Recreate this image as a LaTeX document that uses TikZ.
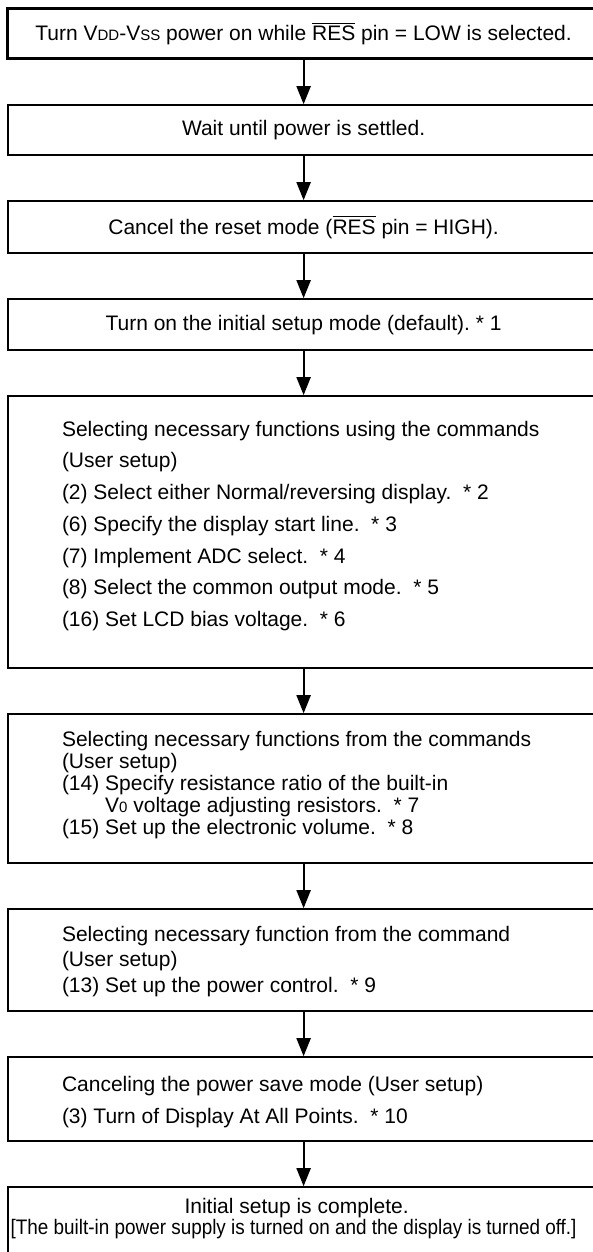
\documentclass[tikz,border=0pt]{standalone}
\usepackage{fontspec}
\setmainfont{Liberation Sans}
\usetikzlibrary{arrows.meta, positioning}

\newcommand{\resbar}{$\overline{\mbox{RES}}$}
\newcommand{\sm}[1]{{\fontsize{7.5pt}{8pt}\selectfont #1}}

\tikzset{
  stepbox/.style={draw, line width=1pt, minimum width=296pt, inner sep=0pt,
    font=\fontsize{10.5pt}{12pt}\selectfont},
  boxline/.style={inner sep=0pt, anchor=base west, font=\fontsize{10.5pt}{12pt}\selectfont},
  flow/.style={-{Triangle[length=9pt,width=7pt]}, line width=1pt},
}

\begin{document}
\begin{tikzpicture}[x=0.5pt, y=-0.5pt]
\useasboundingbox (0,0) rectangle (593,1252);
\clip (0,0) rectangle (593,1252);

% steps
\node[stepbox, line width=1.6pt, minimum height=25pt, anchor=north west] (start) at (6,7)
  {Turn V\sm{DD}-V\sm{SS} power on while \resbar{} pin = LOW is selected.};
\node[stepbox, minimum height=25pt, below=22pt of start] (settle) {Wait until power is settled.};
\node[stepbox, minimum height=26pt, below=22pt of settle] (cancel) {Cancel the reset mode (\resbar{} pin = HIGH).};
\node[stepbox, minimum height=25.5pt, below=22pt of cancel] (initmode) {Turn on the initial setup mode (default).\ * 1};
\node[stepbox, minimum height=136pt, below=22pt of initmode] (usr1) {};
\node[stepbox, minimum height=74.5pt, below=22pt of usr1] (usr2) {};
\node[stepbox, minimum height=51pt, below=22pt of usr2] (usr3) {};
\node[stepbox, minimum height=42pt, below=22pt of usr3] (pwrsave) {};
\node[stepbox, minimum height=34pt, below=22pt of pwrsave] (done) {};

% texts of the user setup boxes
\foreach \y/\t [count=\i] in {20.5/{Selecting necessary functions using the commands},
    36.35/{(User setup)},
    52.2/{(2) Select either Normal/reversing display.\ \ * 2},
    68.05/{(6) Specify the display start line.\ \ * 3},
    83.9/{(7) Implement ADC select.\ \ * 4},
    99.75/{(8) Select the common output mode.\ \ * 5},
    115.6/{(16) Set LCD bias voltage.\ \ * 6}}
  \node[boxline] (usr1-\i) at ([xshift=27.5pt, yshift=-\y pt]usr1.north west) {\t};

\foreach \y/\t [count=\i] in {16.5/{Selecting necessary functions from the commands},
    27.5/{(User setup)},
    38.5/{(14) Specify resistance ratio of the built-in},
    49.5/{\phantom{(14)} V\sm{0} voltage adjusting resistors.\ \ * 7},
    60.5/{(15) Set up the electronic volume.\ \ * 8}}
  \node[boxline] (usr2-\i) at ([xshift=27.5pt, yshift=-\y pt]usr2.north west) {\t};

\foreach \y/\t [count=\i] in {16.5/{Selecting necessary function from the command},
    29/{(User setup)},
    42/{(13) Set up the power control.\ \ * 9}}
  \node[boxline] (usr3-\i) at ([xshift=27.5pt, yshift=-\y pt]usr3.north west) {\t};

\foreach \y/\t [count=\i] in {17.5/{Canceling the power save mode (User setup)},
    33.5/{(3) Turn of Display At All Points.\ \ * 10}}
  \node[boxline] (pwrsave-\i) at ([xshift=27.5pt, yshift=-\y pt]pwrsave.north west) {\t};

\node[boxline, anchor=base] (done-1) at ([xshift=-3.5pt, yshift=-13.5pt]done.north) {Initial setup is complete.};
\node[boxline, anchor=base] (done-2) at ([xshift=-5pt, yshift=-24pt]done.north)
  {\scalebox{0.9}[1]{[The built-in power supply is turned on and the display is turned off.]}};

% arrows
\foreach \a/\b in {start/settle, settle/cancel, cancel/initmode, initmode/usr1,
    usr1/usr2, usr2/usr3, usr3/pwrsave, pwrsave/done}
  \draw[flow] (\a) -- (\b);
\end{tikzpicture}
\end{document}
